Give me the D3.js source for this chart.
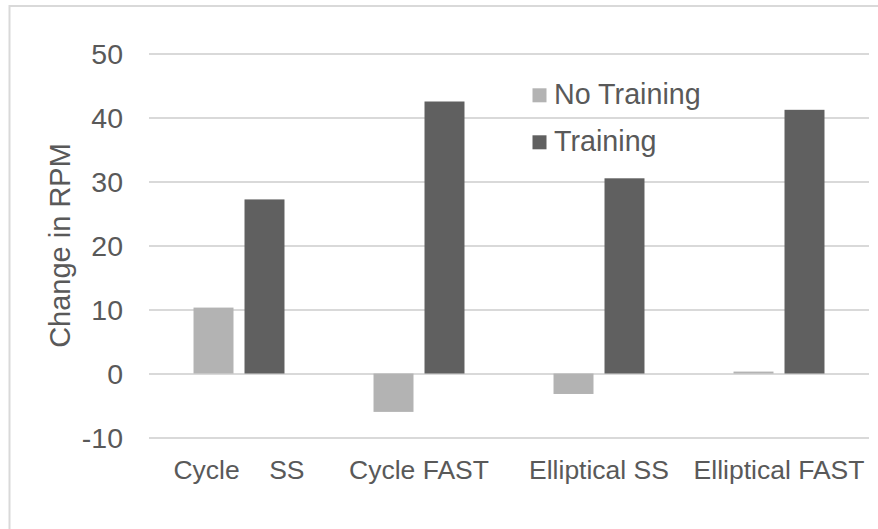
<!DOCTYPE html>
<html>
<head>
<meta charset="utf-8">
<script src="https://cdn.jsdelivr.net/npm/d3@7"></script>
<style>
  body { margin: 0; background: #fff; }
  svg { font-family: "Liberation Sans", Arial, sans-serif; }
</style>
</head>
<body>
<div id="chart"></div>
<script>
// chart data
const categories = ['Cycle    SS', 'Cycle FAST', 'Elliptical SS', 'Elliptical FAST'];
const seriesNames = ['No Training', 'Training'];
const noTraining = [10.3, -6.0, -3.2, 0.3];
const training = [27.2, 42.5, 30.5, 41.2];
const yTicks = [-10, 0, 10, 20, 30, 40, 50];

const seriesColors = ['#b3b3b3', '#606060'];
const textColor = '#595959';
const gridColor = '#d9d9d9';

const width = 878, height = 529;

const rows = categories.map(function (c, i) {
    return {category: c, values: [noTraining[i], training[i]]};
});

const svg = d3.select('#chart').append('svg')
    .attr('width', width)
    .attr('height', height);

// outer frame (only top and left edges show in the picture)
svg.append('rect')
    .attr('x', 9.5)
    .attr('y', 6)
    .attr('width', width + 20)
    .attr('height', height + 20)
    .attr('fill', 'none')
    .attr('stroke', gridColor)
    .attr('stroke-width', 2);

// scales
const x0 = d3.scaleBand().domain(categories).range([149, 869]).padding(0);
const x1 = d3.scaleBand().domain(seriesNames).range([0, x0.bandwidth()])
    .paddingInner(0.216).paddingOuter(0.873);
const y = d3.scaleLinear().domain([-10, 50]).range([437.5, 53.5]);

// y axis with gridlines (plain hyphen for negatives, like the original)
const yAxis = d3.axisLeft(y).tickValues(yTicks).tickSize(-720).tickPadding(26)
    .tickFormat(function (d) { return String(d); });
const yg = svg.append('g')
    .attr('transform', 'translate(149,0)')
    .call(yAxis);
yg.select('.domain').remove();
yg.selectAll('.tick line')
    .attr('stroke', gridColor)
    .attr('stroke-width', 2);
yg.selectAll('.tick text')
    .attr('fill', textColor)
    .style('font-size', '28.5px')
    .attr('dy', '0.34em');

// bars
const groups = svg.selectAll('.group')
    .data(rows)
    .enter().append('g')
    .attr('class', 'group')
    .attr('transform', function (d) { return 'translate(' + x0(d.category) + ',0)'; });

groups.selectAll('rect')
    .data(function (d) {
        return d.values.map(function (v, i) { return {name: seriesNames[i], value: v, idx: i}; });
    })
    .enter().append('rect')
    .attr('x', function (d) { return x1(d.name); })
    .attr('width', x1.bandwidth())
    .attr('y', function (d) { return y(Math.max(0, d.value)); })
    .attr('height', function (d) { return Math.abs(y(d.value) - y(0)); })
    .attr('fill', function (d) { return seriesColors[d.idx]; });

// x axis labels
const xAxis = d3.axisBottom(x0).tickSize(0).tickPadding(22.7);
const xg = svg.append('g')
    .attr('transform', 'translate(0,437.5)')
    .call(xAxis);
xg.select('.domain').remove();
xg.selectAll('.tick text')
    .attr('fill', textColor)
    .style('font-size', '26.5px')
    .style('white-space', 'pre');

// y axis title
svg.append('text')
    .attr('transform', 'translate(70,245.5) rotate(-90)')
    .attr('text-anchor', 'middle')
    .attr('fill', textColor)
    .style('font-size', '29px')
    .text('Change in RPM');

// legend
const legend = svg.selectAll('.legend')
    .data(seriesNames)
    .enter().append('g')
    .attr('class', 'legend')
    .attr('transform', function (d, i) { return 'translate(532.5,' + (88.3 + i * 47) + ')'; });

legend.append('rect')
    .attr('width', 14)
    .attr('height', 14)
    .attr('fill', function (d, i) { return seriesColors[i]; });

legend.append('text')
    .attr('x', 21.5)
    .attr('y', 15.7)
    .attr('fill', textColor)
    .style('font-size', '28.7px')
    .text(function (d) { return d; });
</script>
</body>
</html>
